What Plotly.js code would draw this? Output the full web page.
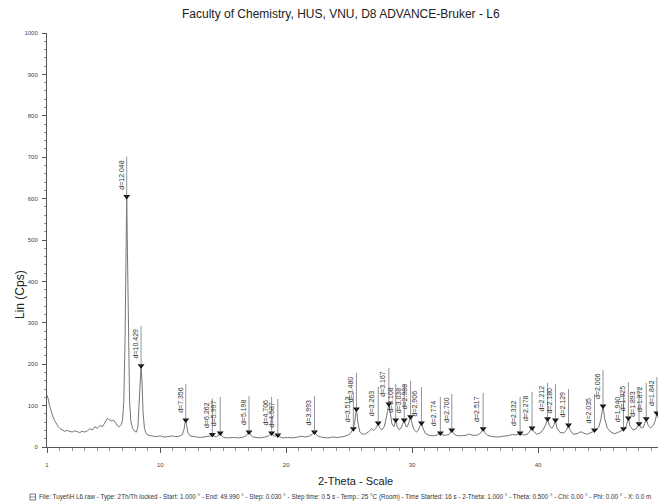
<!DOCTYPE html>
<html>
<head>
<meta charset="utf-8">
<script src="https://cdn.plot.ly/plotly-3.0.1.min.js"></script>
<style>
  html, body { margin: 0; padding: 0; background: #fff; }
  #chart { width: 658px; height: 503px; }
</style>
</head>
<body>
<div id="chart"></div>
<script>
// Measured diffractogram: 2-Theta (deg) and intensity (Lin, Cps)
const twoTheta = [
  1.00, 1.10, 1.20, 1.30, 1.45, 1.60, 1.75, 1.90, 2.05, 2.20, 2.40, 2.60, 2.80, 3.00, 3.20, 3.40,
  3.60, 3.80, 4.00, 4.20, 4.40, 4.60, 4.80, 5.00, 5.20, 5.40, 5.60, 5.80, 5.95, 6.10, 6.30, 6.45,
  6.60, 6.75, 6.90, 7.00, 7.10, 7.20, 7.28, 7.331, 7.39, 7.47, 7.56, 7.66, 7.80, 7.95, 8.10, 8.22,
  8.32, 8.40, 8.472, 8.54, 8.63, 8.74, 8.88, 9.10, 9.40, 9.70, 10.00, 10.30, 10.60, 10.90, 11.20, 11.50,
  11.75, 11.88, 11.96, 12.022, 12.09, 12.18, 12.35, 12.60, 12.90, 13.20, 13.50, 13.80, 14.00, 14.132, 14.26, 14.45,
  14.65, 14.760, 14.87, 15.05, 15.40, 15.80, 16.20, 16.60, 16.85, 16.96, 17.044, 17.14, 17.30, 17.60, 17.95, 18.30,
  18.60, 18.74, 18.841, 18.95, 19.10, 19.22, 19.335, 19.46, 19.70, 20.10, 20.50, 20.90, 21.20, 21.50, 21.80, 22.05,
  22.16, 22.245, 22.35, 22.55, 22.90, 23.30, 23.70, 24.10, 24.50, 24.85, 25.10, 25.23, 25.332, 25.44, 25.576, 25.70,
  25.85, 26.05, 26.30, 26.55, 26.80, 26.95, 27.10, 27.20, 27.309, 27.42, 27.60, 27.80, 27.95, 28.05, 28.154, 28.27,
  28.40, 28.55, 28.63, 28.700, 28.80, 28.95, 29.10, 29.25, 29.377, 29.50, 29.62, 29.75, 29.881, 30.00, 30.15, 30.35,
  30.50, 30.62, 30.746, 30.88, 31.05, 31.35, 31.70, 32.00, 32.15, 32.250, 32.38, 32.65, 32.95, 33.06, 33.160, 33.28,
  33.50, 33.85, 34.20, 34.55, 34.85, 35.20, 35.45, 35.55, 35.642, 35.76, 36.00, 36.40, 36.80, 37.20, 37.60, 37.95,
  38.25, 38.45, 38.576, 38.70, 38.95, 39.20, 39.40, 39.528, 39.66, 39.90, 40.20, 40.45, 40.62, 40.758, 40.90, 41.10,
  41.25, 41.382, 41.50, 41.75, 42.05, 42.25, 42.419, 42.56, 42.80, 43.10, 43.40, 43.65, 43.95, 44.20, 44.35, 44.482,
  44.62, 44.85, 45.00, 45.163, 45.30, 45.50, 45.80, 46.10, 46.40, 46.62, 46.790, 46.95, 47.05, 47.178, 47.32, 47.55,
  47.80, 47.92, 48.026, 48.20, 48.35, 48.47, 48.600, 48.75, 48.95, 49.15, 49.30, 49.440, 49.53
];
const lin = [
  125, 116, 100, 88, 75, 64, 55, 49, 44, 41, 38, 40, 37, 36, 39, 36,
  35, 38, 36, 39, 44, 41, 49, 45, 52, 49, 60, 69, 66, 63, 65, 56,
  51, 49, 54, 66, 110, 260, 480, 605, 470, 250, 110, 62, 45, 38, 36, 48,
  100, 160, 196, 160, 85, 45, 32, 28, 26, 25, 27, 24, 25, 27, 25, 26,
  30, 42, 58, 65, 52, 36, 27, 25, 24, 23, 24, 25, 27, 30, 26, 25,
  29, 34, 27, 23, 22, 23, 22, 24, 28, 33, 36, 31, 25, 23, 22, 24,
  27, 31, 34, 28, 26, 27, 29, 25, 22, 23, 22, 24, 26, 24, 26, 30,
  33, 36, 31, 26, 23, 22, 24, 23, 25, 28, 33, 39, 44, 60, 92, 58,
  36, 31, 32, 37, 44, 40, 44, 50, 58, 47, 41, 50, 68, 86, 104, 80,
  56, 49, 56, 65, 50, 42, 45, 54, 65, 50, 49, 60, 73, 56, 42, 36,
  41, 50, 58, 44, 33, 28, 27, 29, 31, 34, 29, 28, 31, 36, 41, 33,
  28, 27, 28, 31, 28, 29, 34, 39, 44, 35, 28, 25, 24, 26, 27, 30,
  29, 31, 34, 30, 29, 32, 40, 46, 37, 31, 34, 44, 55, 68, 52, 45,
  52, 65, 46, 35, 34, 40, 53, 40, 31, 32, 37, 33, 31, 34, 37, 41,
  40, 50, 68, 99, 68, 46, 36, 32, 36, 39, 44, 46, 55, 70, 50, 41,
  44, 49, 56, 46, 47, 56, 68, 52, 46, 52, 62, 82, 70
];

// Identified reflections (d-spacing, Angstrom)
const dLabels = [
  "12.048", "10.429", "7.356", "6.262", "5.997", "5.198", "4.706", "4.587", "3.993",
  "3.513", "3.480", "3.263", "3.167", "3.108", "3.038", "2.988", "2.906", "2.774", "2.700",
  "2.517", "2.332", "2.278", "2.212", "2.180", "2.129", "2.035", "2.006", "1.940", "1.925",
  "1.893", "1.872", "1.842"
];

const wavelength = 1.5406; // Cu K-alpha1, Angstrom

const footerText = "File: Tuyet\\H L6.raw - Type: 2Th/Th locked - Start: 1.000 \u00b0 - End: 49.990 \u00b0 - Step: 0.030 \u00b0 - Step time: 0.5 s - Temp.: 25 \u00b0C (Room) - Time Started: 16 s - 2-Theta: 1.000 \u00b0 - Theta: 0.500 \u00b0 - Chi: 0.00 \u00b0 - Phi: 0.00 \u00b0 - X: 0.0 m";

// Bragg angle of each reflection, and the intensity of the nearest measured point
const peakTheta = dLabels.map(d => 2 * Math.asin(wavelength / (2 * parseFloat(d))) * 180 / Math.PI);
const peakLin = peakTheta.map(t => {
  let best = 0;
  for (let i = 1; i < twoTheta.length; i++) {
    if (Math.abs(twoTheta[i] - t) < Math.abs(twoTheta[best] - t)) best = i;
  }
  return lin[best];
});

const W = 658, H = 503;
const M = { l: 47, r: 0, t: 33, b: 56 };
const plotW = W - M.l - M.r, plotH = H - M.t - M.b;
const px = x => (x - M.l) / plotW;
const py = y => (H - M.b - y) / plotH;

const FONT = "Liberation Sans, Arial, sans-serif";

const traces = [
  {
    x: twoTheta, y: lin, type: "scatter", mode: "lines",
    line: { color: "#767676", width: 1 },
    hoverinfo: "skip"
  },
  {
    x: peakTheta, y: peakLin, type: "scatter", mode: "markers",
    marker: { symbol: "triangle-down", size: 6, color: "#111" },
    hoverinfo: "skip"
  }
];

const annotations = dLabels.map((d, i) => ({
  xref: "x", yref: "y", x: peakTheta[i], y: peakLin[i],
  text: "d=" + d, textangle: -90, showarrow: false,
  xanchor: "right", yanchor: "bottom", xshift: -0.5, yshift: 5,
  font: { family: FONT, size: 7, color: "#333" }
}));

const shapes = dLabels.map((d, i) => ({
  type: "line", xref: "x", yref: "y", ysizemode: "pixel", yanchor: peakLin[i],
  x0: peakTheta[i], x1: peakTheta[i], y0: 0, y1: (d.length + 2) * 4 + 8,
  line: { color: "#666", width: 0.7 }
}));

annotations.push(
  {
    xref: "paper", yref: "paper", x: px(341), y: py(14),
    text: "Faculty of Chemistry, HUS, VNU, D8 ADVANCE-Bruker - L6", showarrow: false,
    xanchor: "center", yanchor: "middle",
    font: { family: FONT, size: 12, color: "#222" }
  },
  {
    xref: "paper", yref: "paper", x: px(20), y: py(295),
    text: "Lin (Cps)", textangle: -90, showarrow: false,
    xanchor: "center", yanchor: "middle",
    font: { family: FONT, size: 12, color: "#222" }
  },
  {
    xref: "paper", yref: "paper", x: px(355), y: py(481),
    text: "2-Theta - Scale", showarrow: false,
    xanchor: "center", yanchor: "middle",
    font: { family: FONT, size: 11, color: "#222" }
  },
  {
    xref: "paper", yref: "paper", x: px(37), y: py(497),
    text: footerText, showarrow: false,
    xanchor: "left", yanchor: "middle",
    font: { family: FONT, size: 6.3, color: "#333" }
  }
);

// small file icon in front of the footer line
shapes.push(
  {
    type: "rect", xref: "paper", yref: "paper",
    x0: px(30), x1: px(35.5), y0: py(500), y1: py(494),
    line: { color: "#444", width: 0.7 }, fillcolor: "rgba(0,0,0,0)"
  },
  {
    type: "line", xref: "paper", yref: "paper",
    x0: px(30), x1: px(35.5), y0: py(497), y1: py(497),
    line: { color: "#444", width: 0.6 }
  }
);

const layout = {
  width: W, height: H,
  margin: { l: M.l, r: M.r, t: M.t, b: M.b, pad: 0 },
  paper_bgcolor: "#fff", plot_bgcolor: "#fff",
  showlegend: false,
  xaxis: {
    range: [1, 1 + plotW / 12.59],
    showgrid: false, zeroline: false,
    showline: true, linecolor: "#555", linewidth: 1,
    tickmode: "array", tickvals: [1, 10, 20, 30, 40], ticktext: ["1", "10", "20", "30", "40"],
    ticks: "outside", ticklen: 5, tickcolor: "#555", tickwidth: 1,
    ticklabelstandoff: 7,
    minor: { dtick: 1, tick0: 1, ticks: "outside", ticklen: 3, tickcolor: "#666", tickwidth: 0.7, showgrid: false },
    tickfont: { family: FONT, size: 6, color: "#444" }
  },
  yaxis: {
    range: [0, 1000],
    showgrid: false, zeroline: false,
    showline: true, linecolor: "#555", linewidth: 1,
    tickmode: "linear", tick0: 0, dtick: 100,
    ticks: "outside", ticklen: 4, tickcolor: "#555", tickwidth: 1,
    ticklabelstandoff: 3,
    minor: { dtick: 20, ticks: "outside", ticklen: 2, tickcolor: "#666", tickwidth: 0.7, showgrid: false },
    tickfont: { family: FONT, size: 6, color: "#444" }
  },
  annotations: annotations,
  shapes: shapes
};

Plotly.newPlot("chart", traces, layout, { displayModeBar: false, staticPlot: true });
</script>
</body>
</html>
